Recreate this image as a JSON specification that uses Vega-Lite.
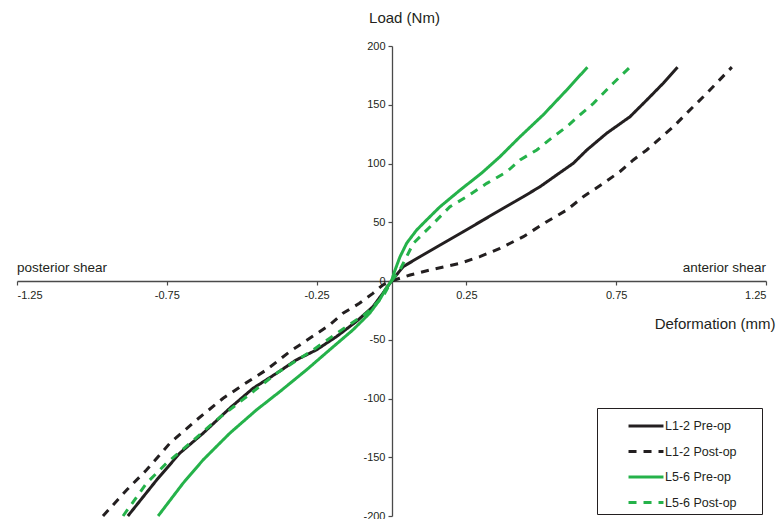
{
  "$schema": "https://vega.github.io/schema/vega-lite/v6.json",
  "autosize": {"type": "none"},
  "width": 749,
  "height": 470,
  "padding": {"left": 17, "top": 46, "right": 11, "bottom": 3},
  "background": "white",
  "config": {
    "view": {"stroke": null},
    "font": "Liberation Sans",
    "axis": {"labelFont": "Liberation Sans", "titleFont": "Liberation Sans", "grid": false, "domainColor": "#4a4a4a", "tickColor": "#4a4a4a", "labelColor": "#231f20", "titleColor": "#231f20", "domainWidth": 1.3, "tickWidth": 1.2}
  },
  "layer": [
    {
      "data": {"values": [
        {"series": "L1-2 Pre-op", "x": -0.88, "y": -200},
        {"series": "L1-2 Pre-op", "x": -0.784, "y": -169.4},
        {"series": "L1-2 Pre-op", "x": -0.707, "y": -146.6},
        {"series": "L1-2 Pre-op", "x": -0.629, "y": -129.6},
        {"series": "L1-2 Pre-op", "x": -0.54, "y": -108.3},
        {"series": "L1-2 Pre-op", "x": -0.462, "y": -91.3},
        {"series": "L1-2 Pre-op", "x": -0.384, "y": -78.6},
        {"series": "L1-2 Pre-op", "x": -0.318, "y": -67.2},
        {"series": "L1-2 Pre-op", "x": -0.251, "y": -58.7},
        {"series": "L1-2 Pre-op", "x": -0.184, "y": -47.4},
        {"series": "L1-2 Pre-op", "x": -0.118, "y": -34.6},
        {"series": "L1-2 Pre-op", "x": -0.062, "y": -21.9},
        {"series": "L1-2 Pre-op", "x": -0.029, "y": -10.5},
        {"series": "L1-2 Pre-op", "x": 0, "y": 0},
        {"series": "L1-2 Pre-op", "x": 0.039, "y": 12.2},
        {"series": "L1-2 Pre-op", "x": 0.095, "y": 20.7},
        {"series": "L1-2 Pre-op", "x": 0.162, "y": 30.6},
        {"series": "L1-2 Pre-op", "x": 0.24, "y": 42.0},
        {"series": "L1-2 Pre-op", "x": 0.306, "y": 51.9},
        {"series": "L1-2 Pre-op", "x": 0.373, "y": 61.9},
        {"series": "L1-2 Pre-op", "x": 0.44, "y": 71.7},
        {"series": "L1-2 Pre-op", "x": 0.496, "y": 80.3},
        {"series": "L1-2 Pre-op", "x": 0.551, "y": 90.2},
        {"series": "L1-2 Pre-op", "x": 0.607, "y": 100.2},
        {"series": "L1-2 Pre-op", "x": 0.652, "y": 111.5},
        {"series": "L1-2 Pre-op", "x": 0.718, "y": 125.7},
        {"series": "L1-2 Pre-op", "x": 0.796, "y": 139.8},
        {"series": "L1-2 Pre-op", "x": 0.852, "y": 154.0},
        {"series": "L1-2 Pre-op", "x": 0.907, "y": 168.3},
        {"series": "L1-2 Pre-op", "x": 0.955, "y": 182},
        {"series": "L1-2 Post-op", "x": -0.963, "y": -200},
        {"series": "L1-2 Post-op", "x": -0.884, "y": -177.9},
        {"series": "L1-2 Post-op", "x": -0.818, "y": -160.9},
        {"series": "L1-2 Post-op", "x": -0.74, "y": -138.1},
        {"series": "L1-2 Post-op", "x": -0.651, "y": -118.3},
        {"series": "L1-2 Post-op", "x": -0.562, "y": -99.8},
        {"series": "L1-2 Post-op", "x": -0.496, "y": -88.5},
        {"series": "L1-2 Post-op", "x": -0.418, "y": -75.7},
        {"series": "L1-2 Post-op", "x": -0.34, "y": -60.2},
        {"series": "L1-2 Post-op", "x": -0.273, "y": -48.8},
        {"series": "L1-2 Post-op", "x": -0.207, "y": -37.4},
        {"series": "L1-2 Post-op", "x": -0.162, "y": -27.5},
        {"series": "L1-2 Post-op", "x": -0.107, "y": -19.0},
        {"series": "L1-2 Post-op", "x": -0.062, "y": -10.5},
        {"series": "L1-2 Post-op", "x": -0.029, "y": -3.4},
        {"series": "L1-2 Post-op", "x": 0, "y": 0},
        {"series": "L1-2 Post-op", "x": 0.062, "y": 5.1},
        {"series": "L1-2 Post-op", "x": 0.129, "y": 9.4},
        {"series": "L1-2 Post-op", "x": 0.229, "y": 15.1},
        {"series": "L1-2 Post-op", "x": 0.295, "y": 20.7},
        {"series": "L1-2 Post-op", "x": 0.362, "y": 27.8},
        {"series": "L1-2 Post-op", "x": 0.44, "y": 37.7},
        {"series": "L1-2 Post-op", "x": 0.518, "y": 50.5},
        {"series": "L1-2 Post-op", "x": 0.585, "y": 60.4},
        {"series": "L1-2 Post-op", "x": 0.64, "y": 71.7},
        {"series": "L1-2 Post-op", "x": 0.707, "y": 83.1},
        {"series": "L1-2 Post-op", "x": 0.762, "y": 93.0},
        {"series": "L1-2 Post-op", "x": 0.807, "y": 103.0},
        {"series": "L1-2 Post-op", "x": 0.852, "y": 111.5},
        {"series": "L1-2 Post-op", "x": 0.941, "y": 131.3},
        {"series": "L1-2 Post-op", "x": 0.985, "y": 142.7},
        {"series": "L1-2 Post-op", "x": 1.052, "y": 159.7},
        {"series": "L1-2 Post-op", "x": 1.136, "y": 182},
        {"series": "L5-6 Pre-op", "x": -0.779, "y": -200},
        {"series": "L5-6 Pre-op", "x": -0.696, "y": -172.2},
        {"series": "L5-6 Pre-op", "x": -0.629, "y": -152.3},
        {"series": "L5-6 Pre-op", "x": -0.54, "y": -129.6},
        {"series": "L5-6 Pre-op", "x": -0.451, "y": -109.8},
        {"series": "L5-6 Pre-op", "x": -0.373, "y": -94.2},
        {"series": "L5-6 Pre-op", "x": -0.284, "y": -75.7},
        {"series": "L5-6 Pre-op", "x": -0.207, "y": -58.7},
        {"series": "L5-6 Pre-op", "x": -0.129, "y": -41.7},
        {"series": "L5-6 Pre-op", "x": -0.073, "y": -27.5},
        {"series": "L5-6 Pre-op", "x": -0.04, "y": -16.2},
        {"series": "L5-6 Pre-op", "x": -0.018, "y": -6.2},
        {"series": "L5-6 Pre-op", "x": 0, "y": 0},
        {"series": "L5-6 Pre-op", "x": 0.01, "y": 8},
        {"series": "L5-6 Pre-op", "x": 0.028, "y": 20.4},
        {"series": "L5-6 Pre-op", "x": 0.051, "y": 32.3},
        {"series": "L5-6 Pre-op", "x": 0.084, "y": 43.4},
        {"series": "L5-6 Pre-op", "x": 0.117, "y": 51.9},
        {"series": "L5-6 Pre-op", "x": 0.162, "y": 63.2},
        {"series": "L5-6 Pre-op", "x": 0.229, "y": 77.4},
        {"series": "L5-6 Pre-op", "x": 0.301, "y": 91.9},
        {"series": "L5-6 Pre-op", "x": 0.362, "y": 105.8},
        {"series": "L5-6 Pre-op", "x": 0.429, "y": 122.8},
        {"series": "L5-6 Pre-op", "x": 0.506, "y": 141.3},
        {"series": "L5-6 Pre-op", "x": 0.585, "y": 162.6},
        {"series": "L5-6 Pre-op", "x": 0.654, "y": 182},
        {"series": "L5-6 Post-op", "x": -0.896, "y": -200},
        {"series": "L5-6 Post-op", "x": -0.818, "y": -172.2},
        {"series": "L5-6 Post-op", "x": -0.751, "y": -155.1},
        {"series": "L5-6 Post-op", "x": -0.673, "y": -138.1},
        {"series": "L5-6 Post-op", "x": -0.584, "y": -118.3},
        {"series": "L5-6 Post-op", "x": -0.484, "y": -98.5},
        {"series": "L5-6 Post-op", "x": -0.384, "y": -78.6},
        {"series": "L5-6 Post-op", "x": -0.262, "y": -58.7},
        {"series": "L5-6 Post-op", "x": -0.151, "y": -38.9},
        {"series": "L5-6 Post-op", "x": -0.084, "y": -27.5},
        {"series": "L5-6 Post-op", "x": -0.029, "y": -13.4},
        {"series": "L5-6 Post-op", "x": 0, "y": 0},
        {"series": "L5-6 Post-op", "x": 0.028, "y": 9.4},
        {"series": "L5-6 Post-op", "x": 0.073, "y": 32.1},
        {"series": "L5-6 Post-op", "x": 0.129, "y": 46.2},
        {"series": "L5-6 Post-op", "x": 0.195, "y": 63.2},
        {"series": "L5-6 Post-op", "x": 0.251, "y": 71.7},
        {"series": "L5-6 Post-op", "x": 0.318, "y": 83.1},
        {"series": "L5-6 Post-op", "x": 0.385, "y": 93.0},
        {"series": "L5-6 Post-op", "x": 0.429, "y": 103.0},
        {"series": "L5-6 Post-op", "x": 0.485, "y": 111.5},
        {"series": "L5-6 Post-op", "x": 0.54, "y": 122.8},
        {"series": "L5-6 Post-op", "x": 0.585, "y": 131.3},
        {"series": "L5-6 Post-op", "x": 0.629, "y": 141.3},
        {"series": "L5-6 Post-op", "x": 0.674, "y": 151.2},
        {"series": "L5-6 Post-op", "x": 0.74, "y": 168.3},
        {"series": "L5-6 Post-op", "x": 0.796, "y": 182}
      ]},
      "mark": {"type": "line", "strokeWidth": 3, "clip": false},
      "encoding": {
        "x": {"field": "x", "type": "quantitative",
          "scale": {"domain": [-1.25, 1.25], "nice": false, "zero": false},
          "axis": {"orient": "bottom", "offset": -235, "values": [-1.25, -0.75, -0.25, 0.25, 0.75, 1.25],
            "format": ".2f", "labelExpr": "replace(datum.label, '\u2212', '-')", "labelFontSize": 11, "tickSize": 4, "labelPadding": 4,
            "title": "Deformation (mm)", "titleFontSize": 15, "titleFontWeight": "normal",
            "titleX": 758, "titleY": 42, "titleAlign": "right", "titleBaseline": "middle", "titleAnchor": null}},
        "y": {"field": "y", "type": "quantitative",
          "scale": {"domain": [-200, 200], "nice": false, "zero": false},
          "axis": {"orient": "left", "offset": -375, "values": [-200, -150, -100, -50, 0, 50, 100, 150, 200],
            "labelExpr": "replace(datum.label, '\u2212', '-')", "labelFontSize": 11, "tickSize": 4, "labelPadding": 3,
            "title": "Load (Nm)", "titleFontSize": 15, "titleFontWeight": "normal", "titleAngle": 0,
            "titleX": 12, "titleY": -29, "titleAlign": "center", "titleBaseline": "middle", "titleAnchor": null}},
        "color": {"field": "series", "type": "nominal",
          "scale": {"domain": ["L1-2 Pre-op", "L1-2 Post-op", "L5-6 Pre-op", "L5-6 Post-op"],
            "range": ["#231f20", "#231f20", "#25b24a", "#25b24a"]},
          "legend": {"title": null, "orient": "none", "legendX": 580, "legendY": 362,
            "strokeColor": "#231f20", "fillColor": "white", "padding": 5,
            "symbolType": "M-1.52,0H1.52", "symbolSize": 529, "symbolStrokeWidth": 3, "symbolOffset": 31,
            "labelExpr": "datum.label + '\u2800\u2800'",
            "labelFontSize": 12.5, "labelColor": "#231f20", "rowPadding": 5.5, "labelOffset": 6, "offset": 0}},
        "strokeDash": {"field": "series", "type": "nominal",
          "scale": {"domain": ["L1-2 Pre-op", "L1-2 Post-op", "L5-6 Pre-op", "L5-6 Post-op"],
            "range": [[1, 0], [8, 7], [1, 0], [8, 7]]},
          "legend": {"title": null}}
      }
    },
    {
      "data": {"values": [{"x": -1.25, "y": 0, "label": "posterior shear"}]},
      "mark": {"type": "text", "align": "left", "baseline": "bottom", "dy": -6, "fontSize": 13.5, "color": "#231f20"},
      "encoding": {"x": {"field": "x", "type": "quantitative"}, "y": {"field": "y", "type": "quantitative"}, "text": {"field": "label"}}
    },
    {
      "data": {"values": [{"x": 1.25, "y": 0, "label": "anterior shear"}]},
      "mark": {"type": "text", "align": "right", "baseline": "bottom", "dy": -6, "fontSize": 13.5, "color": "#231f20"},
      "encoding": {"x": {"field": "x", "type": "quantitative"}, "y": {"field": "y", "type": "quantitative"}, "text": {"field": "label"}}
    }
  ]
}
